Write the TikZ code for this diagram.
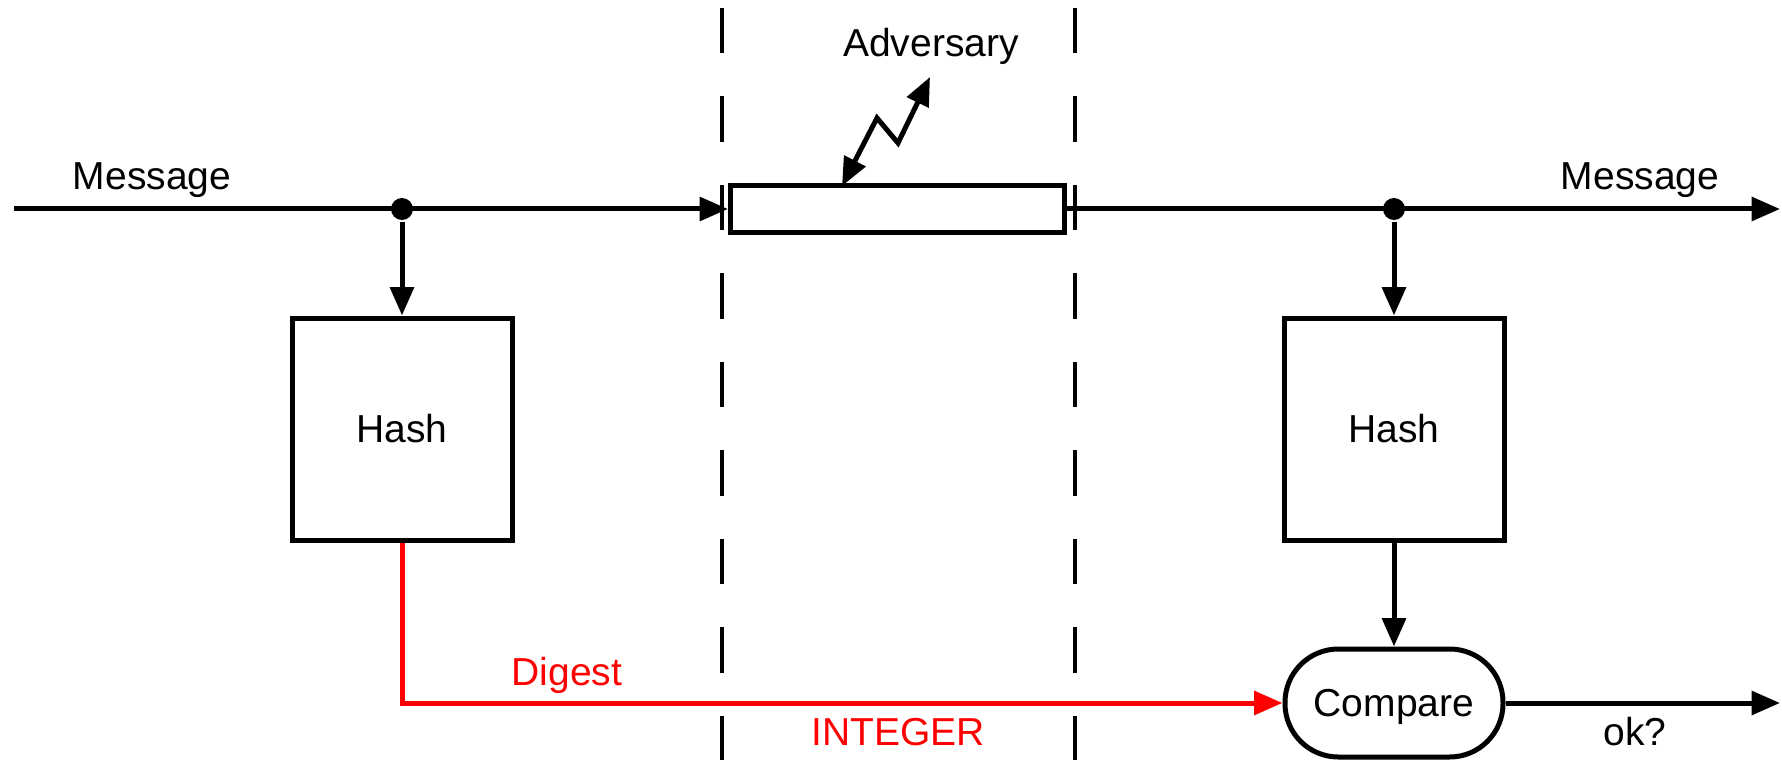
\documentclass[tikz,border=0pt]{standalone}
\usepackage{fontspec}
\setmainfont{Liberation Sans}
\usetikzlibrary{arrows.meta,shapes}

\begin{document}
\begin{tikzpicture}[x=0.3pt,y=-0.3pt,line width=1.5pt,
    >={Triangle[length=8.5pt,width=7pt]},font=\fontsize{11.7}{14}\selectfont]
  \tikzstyle{block}=[draw,rectangle,minimum width=66pt,minimum height=66.6pt]
  \tikzstyle{wire}=[draw,rectangle,inner sep=0pt,minimum width=100.2pt,minimum height=14.1pt]
  \tikzstyle{cmpbox}=[draw,rounded corners=16pt,text depth=0pt,minimum width=65.4pt,minimum height=32.4pt]
  \tikzstyle{junction}=[circle,fill,inner sep=0pt,minimum size=6.6pt]
  \tikzstyle{lbl}=[anchor=base,inner sep=0pt]
  \tikzstyle{zone}=[line width=1pt,dash pattern=on 13.65pt off 12.9pt]

  \useasboundingbox (0,0) rectangle (1782,760);

  % boundary of the insecure channel
  \draw[zone] (722,8) -- (722,760);
  \draw[zone] (1075,8) -- (1075,760);

  \node[coordinate] at (  14,209) (src) {};
  \node[junction]   at ( 402,209) (dotL) {};
  \node[wire]       at (897.5,209) (chan) {};
  \node[junction]   at (1394,209) (dotR) {};
  \node[coordinate] at (1780,209) (dst) {};

  \node[block]  at ( 402,429) (hashL) {Hash};
  \node[block]  at (1394,429) (hashR) {Hash};
  \node[cmpbox] at (1394,703) (cmp) {Compare};
  \node[coordinate] at (1780,703) (res) {};

  \node[coordinate] at ( 842,186) (hit) {};
  \node[coordinate] at ( 930,77)  (atk) {};

  \node[lbl] at ( 152,190) (msgIn)  {Message};
  \node[lbl] at (1640,190) (msgOut) {Message};
  \node[lbl] at ( 931,57)  (adv)    {Adversary};
  \node[lbl] at (1635,745) (ok)     {ok?};
  \node[lbl,text=red] at (567,685) (dig) {Digest};
  \node[lbl,text=red] at (898,745) (int) {INTEGER};

  \path (src)   edge[->] (chan)
        (chan)  edge[->] (dst)
        (dotL)  edge[->] (hashL)
        (dotR)  edge[->] (hashR)
        (hashR) edge[->] (cmp)
        (cmp)   edge[->] (res);

  \draw[->,red] (hashL) |- (cmp);

  % tampering on the channel
  \draw[<->] (hit) -- (877,118) -- (898,143) -- (atk);
\end{tikzpicture}
\end{document}
